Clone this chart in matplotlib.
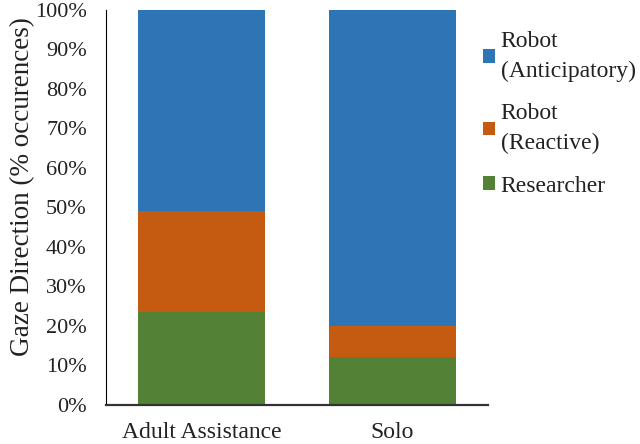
import matplotlib.pyplot as plt
from matplotlib.ticker import PercentFormatter

groups = ['Adult Assistance', 'Solo']
researcher = [23.6, 12.2]
reactive = [25.6, 7.9]
anticipatory = [50.8, 79.9]

plt.rcParams['font.family'] = ['Liberation Serif', 'DejaVu Serif']

fig = plt.figure(figsize=(6.4, 4.44), dpi=100)
ax = fig.add_axes([0.166, 0.088, 0.5965, 0.8895])

x = range(len(groups))
w = 0.665
b1 = ax.bar(x, researcher, w, color='#538135', label='Researcher')
bottom2 = researcher
b2 = ax.bar(x, reactive, w, bottom=bottom2, color='#C55A11', label='Robot\n(Reactive)')
bottom3 = [a + b for a, b in zip(researcher, reactive)]
b3 = ax.bar(x, anticipatory, w, bottom=bottom3, color='#2E75B6', label='Robot\n(Anticipatory)')

ax.set_xlim(-0.5, 1.5)
ax.set_ylim(0, 100)
ax.set_yticks(range(0, 101, 10))
ax.yaxis.set_major_formatter(PercentFormatter(decimals=0))
ax.set_xticks(list(x))
ax.set_xticklabels(groups)
ax.tick_params(axis='both', length=0, colors='#222222')
ax.tick_params(axis='y', labelsize=16, pad=14)
ax.tick_params(axis='x', labelsize=17, pad=12)
ax.set_ylabel('Gaze Direction (% occurences)', fontsize=19.5, color='#222222')
ax.yaxis.set_label_coords(-0.187, 0.552)

for s in ['top', 'right']:
    ax.spines[s].set_visible(False)
ax.spines['left'].set_linewidth(0.8)
ax.spines['bottom'].set_linewidth(1.6)
ax.spines['bottom'].set_color('#333333')

leg = ax.legend(handles=[b3, b2, b1], loc='upper left', bbox_to_anchor=(0.987, 0.947),
                frameon=False, fontsize=17, handlelength=0.5, handleheight=0.5,
                handletextpad=0.25, labelspacing=0.9, borderaxespad=0.0, borderpad=0.0)
for t in leg.get_texts():
    t.set_color('#222222')
    t.set_linespacing(1.55)

fig.savefig('out.png', dpi=100)
